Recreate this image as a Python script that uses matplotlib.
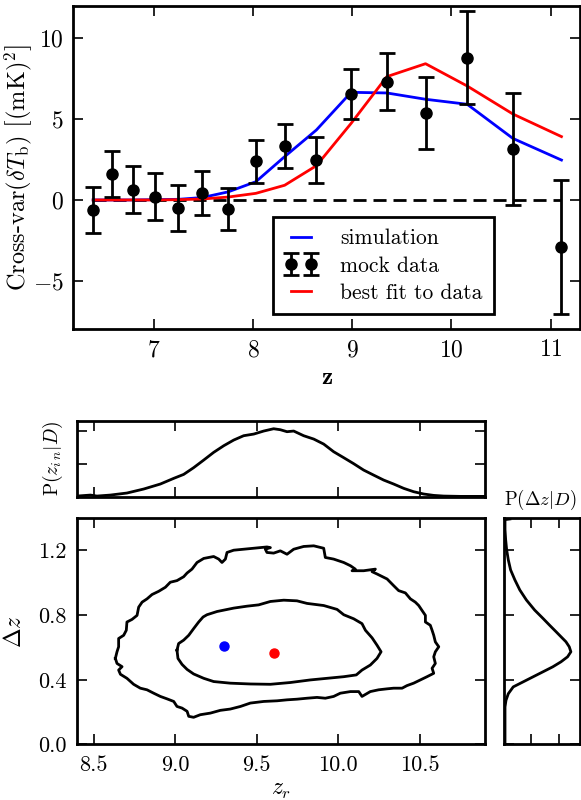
import matplotlib
matplotlib.use("Agg")
import matplotlib.pyplot as plt
import matplotlib.ticker as mticker

plt.rcParams['font.family'] = 'serif'
plt.rcParams['font.serif'] = ['cmr10', 'DejaVu Serif']
plt.rcParams['mathtext.fontset'] = 'cm'
plt.rcParams['axes.formatter.use_mathtext'] = True
plt.rcParams['axes.unicode_minus'] = True

# ---------------- top panel data ----------------
z_data = [6.39, 6.58, 6.79, 7.01, 7.25, 7.49, 7.75, 8.03, 8.32, 8.64,
          8.99, 9.35, 9.74, 10.16, 10.62, 11.11]
mock = [-0.62, 1.59, 0.64, 0.20, -0.47, 0.41, -0.58, 2.39, 3.36, 2.45,
        6.56, 7.32, 5.38, 8.80, 3.15, -2.89]
mock_err = [1.40, 1.43, 1.47, 1.45, 1.42, 1.36, 1.29, 1.31, 1.36, 1.42,
            1.52, 1.76, 2.24, 2.87, 3.47, 4.15]
simulation = [0.0, 0.0, 0.0, 0.02, 0.04, 0.15, 0.50, 1.13, 2.68, 4.33,
              6.66, 6.62, 6.23, 5.92, 3.81, 2.47]
best_fit = [0.0, 0.0, 0.0, 0.0, 0.02, 0.06, 0.18, 0.41, 0.91, 2.12,
            4.74, 7.63, 8.43, 7.05, 5.32, 3.92]
zero_line = [0.0] * len(z_data)

# ---------------- bottom panel data ----------------
inner_zr = [9.011, 9.021, 9.052, 9.083, 9.113, 9.144, 9.171, 9.195, 9.257, 9.359,
            9.441, 9.512, 9.584, 9.666, 9.747, 9.809, 9.911, 9.993, 10.034, 10.095,
            10.146, 10.167, 10.208, 10.238, 10.263, 10.238, 10.197, 10.146, 10.111, 10.034,
            9.931, 9.829, 9.706, 9.584, 9.461, 9.338, 9.236, 9.175, 9.113, 9.073,
            9.042, 9.017, 9.011]
inner_dz = [0.583, 0.624, 0.645, 0.675, 0.716, 0.757, 0.788, 0.802, 0.822, 0.843,
            0.855, 0.863, 0.884, 0.892, 0.888, 0.872, 0.859, 0.835, 0.802, 0.777,
            0.747, 0.706, 0.659, 0.614, 0.573, 0.532, 0.491, 0.460, 0.430, 0.419,
            0.409, 0.399, 0.383, 0.372, 0.374, 0.379, 0.389, 0.409, 0.436, 0.464,
            0.495, 0.532, 0.583]

outer_zr = [8.633, 8.643, 8.653, 8.653, 8.684, 8.700, 8.704, 8.735, 8.766, 8.776,
            8.797, 8.827, 8.858, 8.899, 8.940, 8.970, 9.011, 9.052, 9.073, 9.103,
            9.134, 9.175, 9.236, 9.267, 9.287, 9.308, 9.318, 9.359, 9.461, 9.522,
            9.563, 9.584, 9.553, 9.563, 9.604, 9.645, 9.686, 9.727, 9.788, 9.850,
            9.911, 9.921, 9.972, 10.034, 10.075, 10.105, 10.085, 10.156, 10.228, 10.208,
            10.238, 10.300, 10.340, 10.371, 10.412, 10.443, 10.473, 10.494, 10.514, 10.535,
            10.535, 10.565, 10.576, 10.586, 10.596, 10.617, 10.596, 10.586, 10.596, 10.576,
            10.586, 10.545, 10.504, 10.463, 10.422, 10.392, 10.340, 10.300, 10.248, 10.197,
            10.146, 10.126, 10.075, 10.013, 9.972, 9.921, 9.870, 9.809, 9.747, 9.686,
            9.625, 9.543, 9.461, 9.400, 9.338, 9.277, 9.216, 9.154, 9.113, 9.083,
            9.073, 9.042, 9.011, 8.991, 8.950, 8.909, 8.868, 8.827, 8.786, 8.745,
            8.704, 8.664, 8.653, 8.674, 8.643, 8.633]
outer_dz = [0.532, 0.573, 0.604, 0.655, 0.675, 0.706, 0.757, 0.773, 0.798, 0.849,
            0.880, 0.900, 0.927, 0.947, 0.972, 1.003, 1.013, 1.037, 1.060, 1.084,
            1.125, 1.150, 1.162, 1.146, 1.125, 1.146, 1.187, 1.201, 1.211, 1.217,
            1.221, 1.217, 1.207, 1.187, 1.183, 1.197, 1.176, 1.207, 1.224, 1.228,
            1.213, 1.156, 1.146, 1.125, 1.105, 1.084, 1.074, 1.074, 1.084, 1.068,
            1.054, 1.023, 0.982, 0.951, 0.937, 0.900, 0.880, 0.859, 0.829, 0.798,
            0.757, 0.737, 0.706, 0.675, 0.634, 0.604, 0.573, 0.542, 0.501, 0.471,
            0.440, 0.419, 0.399, 0.379, 0.364, 0.348, 0.348, 0.344, 0.338, 0.327,
            0.297, 0.327, 0.327, 0.317, 0.297, 0.286, 0.291, 0.286, 0.280, 0.276,
            0.270, 0.266, 0.256, 0.235, 0.219, 0.211, 0.194, 0.184, 0.168, 0.174,
            0.205, 0.225, 0.235, 0.266, 0.282, 0.297, 0.317, 0.338, 0.348, 0.372,
            0.409, 0.434, 0.460, 0.481, 0.501, 0.532]

sim_point = (9.297, 0.606)
fit_point = (9.608, 0.565)

pz_x = [8.398, 8.480, 8.520, 8.602, 8.704, 8.807, 8.909, 8.991, 9.052, 9.113,
        9.175, 9.236, 9.298, 9.359, 9.420, 9.482, 9.543, 9.604, 9.645, 9.686,
        9.727, 9.788, 9.850, 9.911, 9.972, 10.034, 10.095, 10.156, 10.217, 10.279,
        10.340, 10.402, 10.463, 10.525, 10.586, 10.647, 10.750, 10.900]
pz_y = [0.010, 0.025, 0.010, 0.025, 0.056, 0.117, 0.193, 0.279, 0.339, 0.441,
        0.557, 0.674, 0.775, 0.861, 0.927, 0.952, 0.998, 1.033, 1.018, 0.988,
        0.998, 0.927, 0.876, 0.800, 0.684, 0.593, 0.502, 0.405, 0.329, 0.253,
        0.193, 0.127, 0.076, 0.041, 0.020, 0.010, 0.005, 0.005]

pdz_y = [0.0, 0.232, 0.273, 0.314, 0.356, 0.387, 0.418, 0.449, 0.480, 0.511,
         0.542, 0.573, 0.604, 0.635, 0.666, 0.697, 0.738, 0.780, 0.831, 0.893,
         0.955, 1.017, 1.079, 1.141, 1.204, 1.266, 1.328, 1.390, 1.394]
pdz_p = [0.036, 0.036, 0.072, 0.157, 0.337, 0.699, 1.060, 1.422, 1.783, 2.084,
         2.325, 2.446, 2.386, 2.265, 2.084, 1.904, 1.663, 1.422, 1.120, 0.819,
         0.578, 0.398, 0.241, 0.157, 0.096, 0.060, 0.036, 0.036, 0.217]

FS_TOP = 17
FS_BOT = 16
FS_LEG = 15.5


def style(ax, fs, pad):
    for s in ax.spines.values():
        s.set_linewidth(2.0)
    ax.tick_params(which='both', direction='in', top=True, right=True,
                   length=7.5, width=1.2, pad=pad, labelsize=fs)


fig = plt.figure(figsize=(5.81, 8.0), dpi=100)

# ---------------- top panel ----------------
ax1 = fig.add_axes([0.1262, 0.5884, 0.8726, 0.4041])
ax1.plot(z_data, zero_line, color='k', lw=2, ls=(0, (4.7, 2.5)), zorder=1)
l_sim, = ax1.plot(z_data, simulation, color='b', lw=2, zorder=2)
l_fit, = ax1.plot(z_data, best_fit, color='r', lw=2, zorder=3)
eb = ax1.errorbar(z_data, mock, yerr=mock_err, fmt='o', color='k', ms=8,
                  lw=2, capsize=5.5, capthick=2, zorder=4)
ax1.set_xlim(6.19, 11.3)
ax1.set_ylim(-8, 12)
ax1.set_xticks([7, 8, 9, 10, 11])
ax1.set_yticks([-5, 0, 5, 10])
style(ax1, FS_TOP, 7)
ax1.set_ylabel(r"Cross-var$(\delta T_{\rm b})$ $\left[(\mathrm{mK})^2\right]$", fontsize=FS_TOP + 0.5)
ax1.yaxis.set_label_coords(-0.0755, 0.5)
ax1.set_xlabel(r"$\mathbf{z}$", fontsize=FS_TOP + 1)
ax1.xaxis.set_label_coords(0.5, -0.115)
leg = ax1.legend([l_sim, eb, l_fit], ["simulation", "mock data", "best fit to data"],
                 loc='lower right', bbox_to_anchor=(0.830, 0.046), borderaxespad=0,
                 numpoints=2, fontsize=FS_LEG, handlelength=1.5, handletextpad=1.05,
                 labelspacing=0.35, fancybox=False, framealpha=1, borderpad=0.55)
leg.get_frame().set_edgecolor('k')
leg.get_frame().set_linewidth(2.0)

# ---------------- contour panel ----------------
ax2 = fig.add_axes([0.1332, 0.0694, 0.7014, 0.2831])
ax2.plot(outer_zr, outer_dz, color='k', lw=2)
ax2.plot(inner_zr, inner_dz, color='k', lw=2)
ax2.plot([sim_point[0]], [sim_point[1]], 'o', color='b', ms=6.5)
ax2.plot([fit_point[0]], [fit_point[1]], 'o', color='r', ms=6.5)
ax2.set_xlim(8.4, 10.9)
ax2.set_ylim(0.0, 1.4)
ax2.set_xticks([8.5, 9.0, 9.5, 10.0, 10.5])
ax2.set_yticks([0.0, 0.4, 0.8, 1.2])
ax2.xaxis.set_major_formatter(mticker.FormatStrFormatter('%.1f'))
ax2.yaxis.set_major_formatter(mticker.FormatStrFormatter('%.1f'))
style(ax2, FS_BOT, 8)
ax2.set_xlabel(r"$z_r$", fontsize=FS_BOT + 1)
ax2.xaxis.set_label_coords(0.5, -0.152)
ax2.set_ylabel(r"$\Delta z$", fontsize=FS_BOT + 1)
ax2.yaxis.set_label_coords(-0.126, 0.5)

# ---------------- top marginal ----------------
ax3 = fig.add_axes([0.1332, 0.3791, 0.7014, 0.0946])
ax3.plot(pz_x, pz_y, color='k', lw=2)
ax3.set_xlim(8.4, 10.9)
ax3.set_ylim(0.0, 1.15)
ax3.set_xticks([8.5, 9.0, 9.5, 10.0, 10.5])
ax3.set_yticks([0.5, 1.0])
style(ax3, FS_BOT, 8)
ax3.tick_params(labelbottom=False, labelleft=False)
ax3.set_ylabel(r"P$(z_{i\,n}|D)$", fontsize=14)
ax3.yaxis.set_label_coords(-0.030, 0.5)

# ---------------- right marginal ----------------
ax4 = fig.add_axes([0.8675, 0.0694, 0.1308, 0.2831])
ax4.plot(pdz_p, pdz_y, color='k', lw=2)
ax4.set_ylim(0.0, 1.4)
ax4.set_xlim(0.0, 2.78)
ax4.set_xticks([1, 2])
ax4.set_yticks([0.0, 0.4, 0.8, 1.2])
style(ax4, FS_BOT, 8)
ax4.tick_params(labelbottom=False, labelleft=False)
ax4.text(0.47, 1.08, r"P$(\Delta z|D)$", transform=ax4.transAxes,
         ha='center', va='center', fontsize=13.5)

fig.savefig("out.png", dpi=100)
